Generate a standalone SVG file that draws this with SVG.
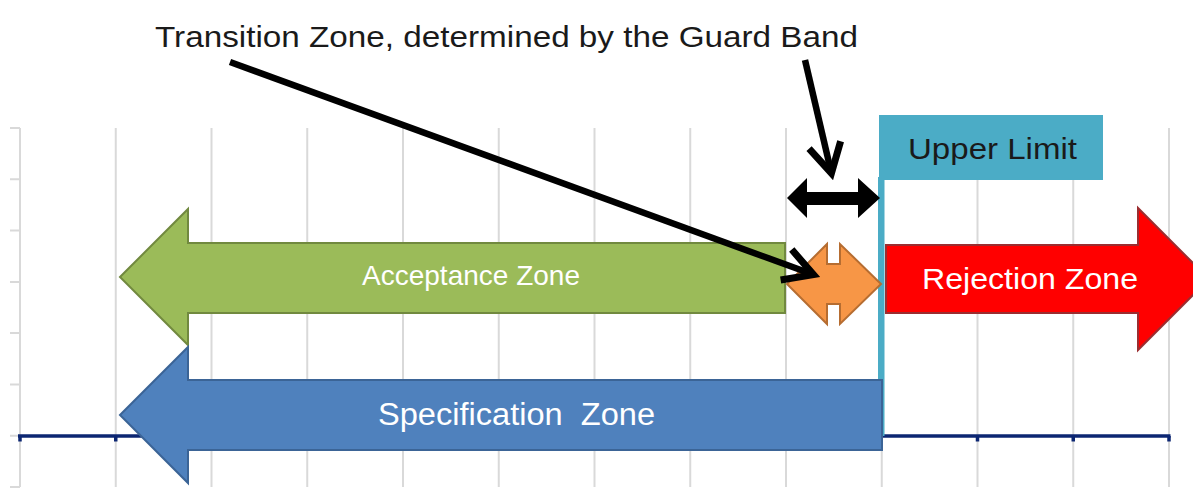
<svg xmlns="http://www.w3.org/2000/svg" width="1193" height="497" viewBox="0 0 1193 497">
<style>
.grid{stroke:#d9d9d9;stroke-width:2;fill:none}
.axis{stroke:#0c2672;stroke-width:3.5;fill:none}
.lbl{font-family:"Liberation Sans",Arial,sans-serif;fill:#fff;text-anchor:start}
.dark{font-family:"Liberation Sans",Arial,sans-serif;fill:#1a1a1a}
.lead{stroke:#000;stroke-width:6.5;fill:none;marker-end:url(#ah)}
</style>
<defs>
<marker id="ah" markerUnits="userSpaceOnUse" markerWidth="60" markerHeight="60" viewBox="-40 -30 60 60" refX="0" refY="0" orient="auto" overflow="visible">
<path d="M-28,-16.2 L1,0 L-28,16.2" fill="none" stroke="#000" stroke-width="7" stroke-linejoin="miter" stroke-miterlimit="10"/>
</marker>
</defs>
<rect width="1193" height="497" fill="#fff"/>
<g id="grid">
<path class="grid" d="M20,128V487M115.75,128V487M211.5,128V487M307.25,128V487M403,128V487M498.75,128V487M594.5,128V487M690.25,128V487M786,128V487M881.75,128V487M977.5,128V487M1073.25,128V487M1169,128V487"/>
<path class="grid" d="M10,128H20M10,179.3H20M10,230.6H20M10,281.9H20M10,333.1H20M10,384.4H20M10,435.7H20M10,487H20"/>
<path class="axis" d="M18,436H1170.5"/>
<path class="axis" d="M20,436V441.5M115.75,436V441.5M977.5,436V441.5M1073.25,436V441.5M1169,436V441.5" stroke-width="3"/>
</g>
<g id="upper-limit">
<rect x="878" y="177" width="6.5" height="259" fill="#4bacc6"/>
<rect x="879" y="115" width="224" height="65" fill="#4bacc6"/>
<text class="dark" x="908" y="159" font-size="29" textLength="169" lengthAdjust="spacingAndGlyphs">Upper Limit</text>
</g>
<g id="acceptance-zone">
<polygon points="120,277 188,209 188,243 785,243 785,313 188,313 188,345" fill="#9bbb59" stroke="#71893f" stroke-width="2"/>
<text class="lbl" x="362" y="285" font-size="28" textLength="218" lengthAdjust="spacingAndGlyphs">Acceptance Zone</text>
</g>
<g id="specification-zone">
<polygon points="120,415 188,347 188,380 882,380 882,450 188,450 188,483" fill="#4f81bd" stroke="#3b6496" stroke-width="2"/>
<text class="lbl" x="378" y="425" font-size="31" textLength="277" lengthAdjust="spacingAndGlyphs" xml:space="preserve">Specification  Zone</text>
</g>
<g id="rejection-zone">
<polygon points="886,245 1138,245 1138,208 1209,279 1138,350 1138,313 886,313" fill="#ff0000" stroke="#9b2d30" stroke-width="2"/>
<text class="lbl" x="922" y="289" font-size="30" textLength="216" lengthAdjust="spacingAndGlyphs">Rejection Zone</text>
</g>
<g id="transition-zone">
<polygon points="787,284 827,244 827,264 840,264 840,244 881,284 840,324 840,304 827,304 827,324" fill="#f79646" stroke="#b66d31" stroke-width="2"/>
</g>
<g id="guard-band">
<polygon points="787,198 807,178 807,192 858,192 858,178 880,198 858,218 858,205 807,205 807,218" fill="#000"/>
</g>
<g id="title">
<text class="dark" x="155" y="47" font-size="30" textLength="703" lengthAdjust="spacingAndGlyphs">Transition Zone, determined by the Guard Band</text>
</g>
<g id="connectors">
<path class="lead" d="M230,62 L812.5,274.3"/>
<path class="lead" d="M805,60 L831.2,172.2"/>
</g>
</svg>
